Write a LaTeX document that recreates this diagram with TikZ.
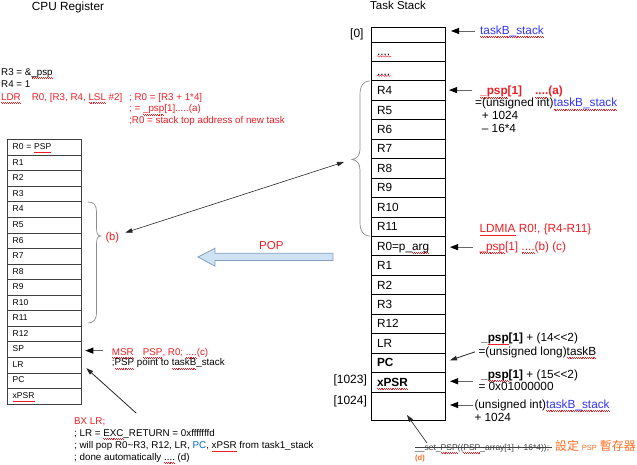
\documentclass[tikz,border=0pt]{standalone}
\usepackage{fontspec}
\setmainfont{Liberation Sans}
\newfontfamily\cjk{Noto Sans CJK TC}
\usetikzlibrary{arrows.meta,decorations.pathmorphing,calc}
\definecolor{myred}{RGB}{238,30,36}
\definecolor{myblue}{RGB}{51,51,255}
\definecolor{pcblue}{RGB}{0,102,204}
\definecolor{myorange}{RGB}{255,109,34}
\definecolor{popfill}{RGB}{207,226,243}
\definecolor{popdraw}{RGB}{130,160,190}
\definecolor{bracegray}{RGB}{140,140,140}
\newcommand\sq[1]{\leavevmode\setbox0\hbox{#1}\rlap{\hbox to\wd0{\color{myred}\xleaders\hbox{\vrule width0.9pt height-2pt depth2.5pt\vrule width0.9pt height-2.7pt depth3.2pt}\hfill}}\box0\relax}
\begin{document}
\begin{tikzpicture}[x=1pt,y=-1pt,
  txt/.style={anchor=base west,inner sep=0pt,font=\fontsize{9.8}{12}\selectfont},
  rtxt/.style={anchor=base west,inner sep=0pt,font=\fontsize{11.8}{14}\selectfont},
  rbold/.style={anchor=base west,inner sep=0pt,font=\fontsize{11.8}{14}\selectfont\bfseries},
  stackcell/.style={draw=black,line width=0.8pt,outer sep=0pt,minimum width=74pt,minimum height=19.44pt,inner ysep=0pt,inner xsep=6pt,text width=62pt,align=left,text height=8.5pt,text depth=0.5pt,font=\fontsize{11.8}{14}\selectfont,anchor=north west},
  regcell/.style={draw=black!75,line width=0.8pt,outer sep=0pt,minimum width=74pt,minimum height=15.55pt,inner ysep=0pt,inner xsep=5.4pt,text width=63.2pt,align=left,text height=6pt,text depth=1.5pt,font=\fontsize{8.5}{10}\selectfont,anchor=north west},
  ptr/.style={draw=black!60,line width=0.9pt,-{Triangle[length=8pt,width=6pt,color=black]}},
  thinptr/.style={draw=black!85,line width=0.6pt,-{Triangle[length=7pt,width=4.5pt]}},
  dblptr/.style={draw=black!85,line width=0.6pt,{Triangle[length=7pt,width=4.5pt]}-{Triangle[length=7pt,width=4.5pt]}},
  bracestyle/.style={draw=bracegray,line width=0.7pt},
  squig/.style={draw=myred,line width=0.4pt,decorate,decoration={snake,amplitude=0.7pt,segment length=2.6pt}},
]
\useasboundingbox (0,0) rectangle (637,465);

% titles
\node[rtxt] (cpu) at (31.7,11) {CPU Register};
\node[rtxt,font=\fontsize{11.5}{14}\selectfont] (ts) at (370,10) {Task Stack};

% left code text
\node[txt] (l1) at (1,75.3) {R3 = \&\sq{\_psp}};
\node[txt] (l2) at (1,87.5) {R4 = 1};
\node[txt,text=myred] (l3a) at (1,100.5) {\sq{LDR}};
\node[txt,text=myred] (l3b) at (31.7,100.5) {R0, [R3, R4, \sq{LSL} \#2]};
\node[txt,text=myred] (l3c) at (129,100.5) {; R0 = [R3 + 1*4]};
\node[txt,text=myred] (l4) at (129,112) {; = \sq{\_psp}[1].....(a)};
\node[txt,text=myred] (l5) at (129,123.3) {;R0 = stack top address of new task};

% register column
\foreach \lab [count=\i] in {R0 = \sq{PSP},R1,R2,R3,R4,R5,R6,R7,R8,R9,R10,R11,R12,SP,LR,PC,\sq{xPSR}}
  \node[regcell] (r\i) at (7.3,{139.7+(\i-1)*15.55}) {\lab};

% stack column
\node[stackcell,minimum height=15pt] (s0) at (371,27) {};
\node[stackcell] (s1) at (371,42) {....};
\node[stackcell] (s2) at (371,61.44) {....};
\foreach \lab [count=\i from 3] in {R4,R5,R6,R7,R8,R9,R10,R11,R0=p\_\sq{arg},R1,R2,R3,R12,LR,\textbf{PC},\textbf{\sq{xPSR}}}
  \node[stackcell] (s\i) at (371,{42+(\i-1)*19.444}) {\lab};
\node[stackcell,minimum height=28pt] (s19) at (371,392) {};
\draw[squig] ($(s1.west)+(6,4.6)$) -- ++(14,0);
\draw[squig] ($(s2.west)+(6,4.6)$) -- ++(14,0);

% index labels
\node[rtxt,font=\fontsize{12}{14}\selectfont] (i0) at (350,37.3) {[0]};
\node[rtxt,font=\fontsize{12}{14}\selectfont] (i1023) at (333.3,383.3) {[1023]};
\node[rtxt,font=\fontsize{12}{14}\selectfont] (i1024) at (333.3,404) {[1024]};

% braces
\draw[bracestyle] (370,81) .. controls (363,81) and (360,86) .. (360,95) -- (360,149)
  .. controls (360,155) and (357,159) .. (352,159.5)
  .. controls (357,160) and (360,164) .. (360,170) -- (360,222)
  .. controls (360,231) and (363,236) .. (370,236);
\draw[bracestyle] (88,202) .. controls (94,202) and (96.5,205) .. (96.5,212) -- (96.5,228)
  .. controls (96.5,233) and (97.5,236) .. (100.5,236)
  .. controls (97.5,236) and (96.5,239) .. (96.5,244) -- (96.5,313)
  .. controls (96.5,319) and (94,323) .. (88,323);
\node[anchor=base west,inner sep=0pt,text=myred,font=\fontsize{11.2}{13}\selectfont] (bl) at (105.3,240.5) {(b)};
\coordinate (stip) at (344,162);
\draw[dblptr] ($(bl.east)+(6,-5)$) -- (stip);

% POP block arrow
\draw[fill=popfill,draw=popdraw,line width=0.8pt,line join=miter]
  (333,253.3) -- (215,253.3) -- (215,248.3) -- (198,257) -- (215,266.2) -- (215,260.5) -- (333,260.5) -- cycle;
\node[rtxt,text=myred,font=\fontsize{11.5}{14}\selectfont] (pop) at (259,249) {POP};

% right annotations
\node[rtxt,text=myblue] (tb) at (480,34.3) {\sq{taskB\_stack}};
\draw[ptr] ($(s0.east)+(30,-3.5)$) -- ($(s0.east)+(6,-3.5)$);

\node[rbold,text=myred] (psa) at (480,95) {\sq{\_psp}[1]};
\node[rbold,text=myred] (psa2) at (535,95) {\sq{....}(a)};
\node[rtxt] (ui1) at (475,107) {=(unsigned int)\textcolor{myblue}{\sq{taskB\_stack}}};
\node[rtxt] (p1024a) at (481.7,120) {+ 1024};
\node[rtxt] (m164) at (481.7,132.7) {– 16*4};
\draw[ptr] ($(s3.east)+(27,-0.5)$) -- ($(s3.east)+(4,-0.5)$);

\node[rtxt,text=myred] (ldmia) at (479.3,232.7) {\sq{LDMIA} R0!, \{R4-R11\}};
\node[rtxt,text=myred] (pspb) at (479.3,250) {\sq{\_psp}[1] \sq{....}(b) (c)};
\draw[ptr] ($(s11.east)+(28,1)$) -- ($(s11.east)+(5,1)$);

\node[rtxt] (pc1) at (481,341.7) {\textbf{\_\sq{psp}[1]} + (14<{}<2)};
\node[rtxt] (pc2) at (478.3,355) {=(unsigned long)\sq{taskB}};
\draw[thinptr,line width=0.8pt] ($(s17.east)+(30,-11)$) -- ($(s17.east)+(5,-2.5)$);

\node[rtxt] (xp1) at (481,378.3) {\textbf{\_\sq{psp}[1]} + (15<{}<2)};
\node[rtxt] (xp2) at (478.3,390.5) {= 0x01000000};
\draw[ptr] ($(s18.east)+(28,-1)$) -- ($(s18.east)+(5,-1)$);

\node[rtxt] (e1) at (474.3,408.3) {(unsigned int)\textcolor{myblue}{\sq{taskB\_stack}}};
\node[rtxt] (e2) at (474.3,421) {+ 1024};
\draw[ptr] ($(s19.east)+(28,-1)$) -- ($(s19.east)+(5,-1)$);

% bottom right
\node[anchor=base west,inner sep=0pt,font=\fontsize{8.5}{10}\selectfont,text=black!75] (setn) at (415,450) {\_\_set\_\sq{PSP}((\sq{PSP}\_array[1] + 16*4));};
\draw[black!75,line width=0.6pt] ($(setn.base west)+(0,-2.3)$) -- ($(setn.base east)+(3,-2.3)$);
\node[anchor=base west,inner sep=0pt,text=myorange] (cjkl) at (555,450) {{\cjk\fontsize{12}{14}\selectfont 設定} {\fontsize{7.5}{9}\selectfont PSP} {\cjk\fontsize{12}{14}\selectfont 暫存器}};
\node[anchor=base west,inner sep=0pt,text=myorange,font=\fontsize{7.5}{9}\selectfont\bfseries] (dd) at (415,460.7) {(d)};
\draw[thinptr] ($(setn.base west)+(12,-7)$) -- ($(s19.south)+(-1,-5)$);

% SP / LR annotations
\node[txt,text=myred] (msr) at (111.7,355) {\sq{MSR}};
\node[txt,text=myred] (msr2) at (142.7,355) {\sq{PSP}, R0; \sq{....}(c)};
\node[txt] (msr3) at (111.7,365.8) {;\sq{PSP} point to \sq{taskB}\_stack};
\draw[ptr] ($(r14.east)+(22,1)$) -- ($(r14.east)+(4,1)$);

\node[txt,text=myred] (bx) at (74,424) {BX LR;};
\node[txt] (bx2) at (74,436) {; LR = \sq{EXC}\_RETURN = 0xfffffffd};
\node[txt] (bx3) at (74,448.5) {; will pop R0\textasciitilde R3, R12, LR, \textcolor{pcblue}{PC}, \sq{xPSR} from task1\_stack};
\node[txt] (bx4) at (74,460.3) {; done automatically \sq{....} (d)};
\draw[thinptr,line width=0.8pt] ($(r15.east)+(55,48)$) -- ($(r15.east)+(5,3)$);
\end{tikzpicture}
\end{document}
